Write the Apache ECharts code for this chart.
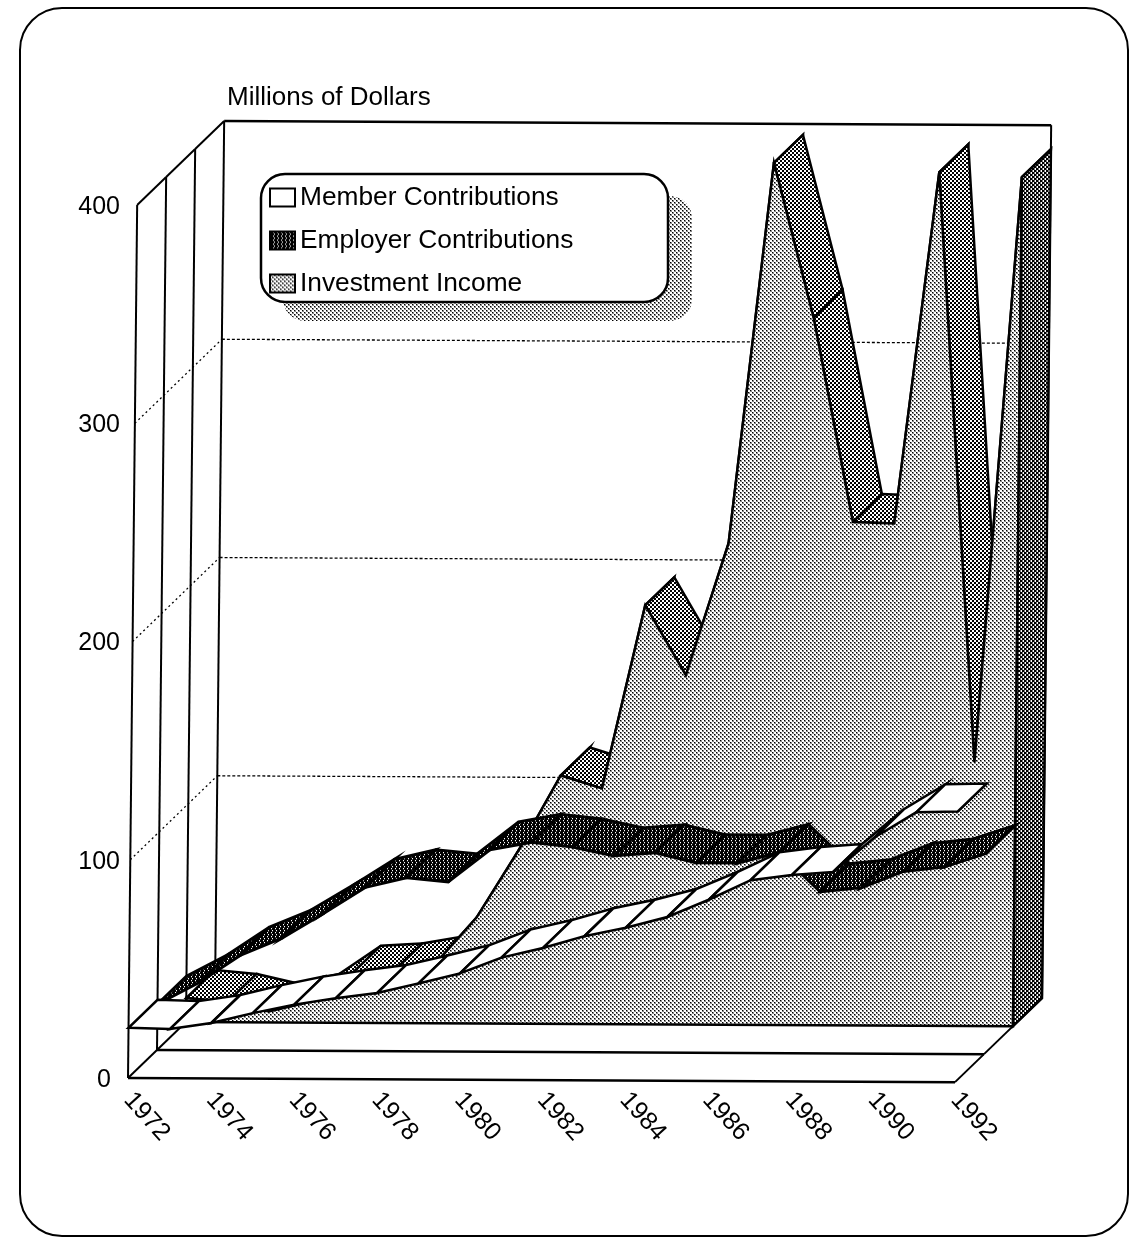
<!DOCTYPE html>
<html>
<head>
<meta charset="utf-8">
<style>html,body{margin:0;padding:0;background:#fff}#chart{width:1132px;height:1238px}</style>
<script src="https://cdn.jsdelivr.net/npm/echarts@6/dist/echarts.min.js"></script>
</head>
<body>
<div id="chart"></div>
<script>
// Annual receipts of the fund, millions of dollars
const years = ['1972','1973','1974','1975','1976','1977','1978','1979','1980','1981','1982','1983','1984','1985','1986','1987','1988','1989','1990','1991','1992'];
const memberContributions = [23,22.5,25.4,30,34,37,39.5,44,48.7,56,60.5,66,70,75,83,92,94.5,96,112,123.6,124];
const employerContributions = [21,31,43.7,51.6,63,75,79.5,77.7,92.5,96,94,90,91.5,87,87,92,74,76,83.5,85.7,92];
const investmentIncome = [11,9.3,5,9.5,22.5,23.6,27,48.5,79.4,113.8,108,192,160,220.6,395,324,230.6,230,391,120.8,389];
const wallLevels = [100,200,300];
const axisMax = 400;

// Oblique projection of the three series planes
const DEPTH_DX = 29, DEPTH_DY = -28;
const LEAN_X = 0.0105, LEAN_Y = 0.005;

function project(api, yearIndex, value, depth) {
  const origin = api.coord([0, 0]);
  const p = api.coord([yearIndex, value]);
  const zero = api.coord([yearIndex, 0]);
  return [
    p[0] + depth * DEPTH_DX + (zero[1] - p[1]) * LEAN_X,
    p[1] + depth * DEPTH_DY + (p[0] - origin[0]) * LEAN_Y
  ];
}

// Halftone tiles for the fills
function stipple(rows, shade) {
  const c = document.createElement('canvas');
  c.width = rows[0].length; c.height = rows.length;
  const g = c.getContext('2d');
  g.fillStyle = '#fff'; g.fillRect(0, 0, c.width, c.height);
  rows.forEach((row, y) => row.split('').forEach((ch, x) => {
    if (ch === '#') { g.fillStyle = '#000'; g.fillRect(x, y, 1, 1); }
    if (ch === '+') { g.fillStyle = shade; g.fillRect(x, y, 1, 1); }
  }));
  return { image: c, repeat: 'repeat' };
}
const lightDots = stipple(['#+..','++..','..#+','..++'], '#888');
const midDots = stipple(['##..','##..','..##','..##'], '#777');
const endDots = stipple(['##+.','##+.','+.##','+.##'], '#777');
const darkDots = stipple(['###.','###+','.###','+###'], '#444');

const INK = '#000';

function ribbonItem(depth, fill, lineWidth) {
  return function (params, api) {
    const i = params.dataIndex;
    if (i >= years.length - 1) return null;
    const v0 = api.value(1), v1 = params.context.values[i + 1];
    return {
      type: 'polygon',
      shape: { points: [
        project(api, i, v0, depth), project(api, i + 1, v1, depth),
        project(api, i + 1, v1, depth + 1), project(api, i, v0, depth + 1)
      ] },
      style: { fill: fill, stroke: INK, lineWidth: lineWidth, lineJoin: 'miter' }
    };
  };
}

function ribbonSeries(name, values, depth, fill, lineWidth, z) {
  return {
    type: 'custom', name: name, z: z, silent: true, animation: false,
    coordinateSystem: 'cartesian2d', encode: { x: 0, y: 1 },
    data: values.map((v, i) => [i, v]),
    itemStyle: { color: fill, borderColor: INK },
    renderItem: function (params, api) {
      params.context.values = values;
      return ribbonItem(depth, fill, lineWidth)(params, api);
    }
  };
}

// Back wall, side wall and floor
function wallsItem(params, api) {
  const line = (a, b, width, dash) => ({
    type: 'line',
    shape: { x1: a[0], y1: a[1], x2: b[0], y2: b[1] },
    style: { stroke: INK, lineWidth: width, lineDash: dash || null }
  });
  const last = years.length - 1;
  const level = api.value(1);
  if (params.dataIndex < wallLevels.length) {
    return { type: 'group', children: [
      line(project(api, 0, level, 0), project(api, 0, level, 3), 1.3, [2, 3]),
      line(project(api, 0, level, 3), project(api, last, level, 3), 1.3, [3, 2])
    ] };
  }
  const kids = [];
  for (let d = 0; d <= 3; d++) {
    kids.push(line(project(api, 0, 0, d), project(api, 0, axisMax, d), 2));
  }
  for (let d = 0; d < 3; d++) {
    kids.push(line(project(api, 0, axisMax, d), project(api, 0, axisMax, d + 1), 2));
    kids.push(line(project(api, 0, 0, d), project(api, 0, 0, d + 1), 2));
    kids.push(line(project(api, last, 0, d), project(api, last, 0, d + 1), 2));
  }
  kids.push(line(project(api, 0, 0, 0), project(api, last, 0, 0), 2.5));
  kids.push(line(project(api, 0, 0, 1), project(api, last, 0, 1), 2.5));
  kids.push(line(project(api, 0, axisMax, 3), project(api, last, axisMax, 3), 2.5));
  kids.push(line(project(api, last, 0, 3), project(api, last, axisMax, 3), 2));
  return { type: 'group', children: kids };
}

// Front face of the investment plane with its closing end wall
function investmentFaceItem(params, api) {
  if (params.dataIndex !== 0) return null;
  const last = years.length - 1;
  const pts = investmentIncome.map((v, i) => project(api, i, v, 2));
  pts.push(project(api, last, 0, 2));
  pts.push(project(api, 0, 0, 2));
  return { type: 'group', children: [
    { type: 'polygon', shape: { points: pts }, style: { fill: lightDots, stroke: INK, lineWidth: 2.5 } },
    { type: 'polygon', shape: { points: [
        project(api, last, 0, 2), project(api, last, 0, 3),
        project(api, last, investmentIncome[last], 3), project(api, last, investmentIncome[last], 2)
      ] }, style: { fill: endDots, stroke: INK, lineWidth: 2.5 } }
  ] };
}

const chart = echarts.init(document.getElementById('chart'), null, { renderer: 'canvas' });
const FONT = '"Liberation Sans", Arial, sans-serif';

chart.setOption({
  animation: false,
  backgroundColor: '#fff',
  title: {
    text: 'Millions of Dollars', left: 222, top: 80,
    textStyle: { fontFamily: FONT, fontSize: 26, fontWeight: 'normal', color: '#000' }
  },
  grid: { left: 128, top: 205, width: 827, height: 873, containLabel: false },
  xAxis: {
    type: 'category', data: years, boundaryGap: false,
    axisLine: { show: false }, axisTick: { show: false }, splitLine: { show: false },
    axisLabel: {
      interval: 1, rotate: -48, margin: 18, hideOverlap: false,
      fontFamily: FONT, fontSize: 25, color: '#000'
    }
  },
  yAxis: {
    type: 'value', min: 0, max: axisMax, interval: 100,
    axisLine: { show: false }, axisTick: { show: false }, splitLine: { show: false },
    axisLabel: {
      margin: 8, fontFamily: FONT, fontSize: 25, color: '#000', padding: [4, 0, 0, 0],
      formatter: v => v === 0 ? '{zero|0}' : String(v),
      rich: { zero: { fontFamily: FONT, fontSize: 25, color: '#000', padding: [0, 9, 0, 0] } }
    }
  },
  legend: {
    left: 269, top: 183, orient: 'vertical', itemGap: 14, itemWidth: 25, itemHeight: 18,
    padding: 0, selectedMode: false, z: 60,
    textStyle: { fontFamily: FONT, fontSize: 26.3, color: '#000', lineHeight: 29 },
    data: [
      { name: 'Member Contributions', icon: 'rect', itemStyle: { color: '#fff', borderColor: INK, borderWidth: 2 } },
      { name: 'Employer Contributions', icon: 'rect', itemStyle: { color: darkDots, borderColor: INK, borderWidth: 2 } },
      { name: 'Investment Income', icon: 'rect', itemStyle: { color: lightDots, borderColor: INK, borderWidth: 2 } }
    ]
  },
  graphic: [
    { type: 'rect', z: -10, silent: true, shape: { x: 20, y: 8, width: 1108, height: 1228, r: 42 },
      style: { fill: '#fff', stroke: INK, lineWidth: 2 } },
    { type: 'rect', z: 50, silent: true, shape: { x: 283, y: 196, width: 409, height: 125, r: 22 },
      style: { fill: lightDots } },
    { type: 'rect', z: 51, silent: true, shape: { x: 261, y: 174, width: 407, height: 128, r: 24 },
      style: { fill: '#fff', stroke: INK, lineWidth: 2.5 } }
  ],
  series: [
    {
      type: 'custom', name: 'walls', z: 1, silent: true, animation: false,
      coordinateSystem: 'cartesian2d', encode: { x: 0, y: 1 },
      data: wallLevels.map(v => [0, v]).concat([[0, axisMax]]),
      renderItem: wallsItem
    },
    ribbonSeries('Investment Income', investmentIncome, 2, midDots, 2.5, 3),
    {
      type: 'custom', name: 'Investment Income', z: 4, silent: true, animation: false,
      coordinateSystem: 'cartesian2d', encode: { x: 0, y: 1 },
      data: investmentIncome.map((v, i) => [i, v]),
      renderItem: investmentFaceItem
    },
    ribbonSeries('Employer Contributions', employerContributions, 1, darkDots, 3, 5),
    ribbonSeries('Member Contributions', memberContributions, 0, '#fff', 2.5, 6)
  ]
});
</script>
</body>
</html>
